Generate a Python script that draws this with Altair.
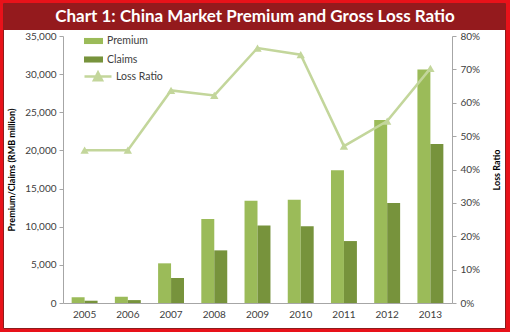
import altair as alt
import pandas as pd

years = ["2005", "2006", "2007", "2008", "2009", "2010", "2011", "2012", "2013"]
premium = [760, 830, 5200, 11000, 13400, 13550, 17400, 24000, 30600]
claims = [300, 380, 3280, 6900, 10150, 10050, 8120, 13100, 20850]
loss_ratio = [0.458, 0.458, 0.637, 0.622, 0.764, 0.744, 0.470, 0.545, 0.703]
bar_series = ["Premium", "Claims"]
bar_colors = ["#9BBB59", "#77933C"]
line_series = ["Loss Ratio"]
line_colors = ["#C3D69B"]
title_text = "Chart 1: China Market Premium and Gross Loss Ratio"

bars_df = pd.DataFrame({
    "Year": years * 2,
    "Series": ["Premium"] * len(years) + ["Claims"] * len(years),
    "Value": premium + claims,
})
lr_df = pd.DataFrame({"Year": years, "LossRatio": loss_ratio,
                      "Series": line_series * len(years)})
one = pd.DataFrame({"k": [0]})

FONT = "Lato"
W, H = 389, 267

x_enc = alt.X("Year:N", sort=years,
              scale=alt.Scale(paddingInner=0.4, paddingOuter=0.2),
              axis=alt.Axis(title=None, labelAngle=0, ticks=False, labelPadding=6,
                            domainColor="#A6A6A6", labelColor="#404040", labelFontSize=10,
                            labelFont=FONT, zindex=1))

frame = alt.Chart(one).mark_rect(fill="white", stroke="#8C1C1C", strokeWidth=1).encode(
    x=alt.value(-59.5), x2=alt.value(442.5), y=alt.value(-32.5), y2=alt.value(292.5))
band = alt.Chart(one).mark_rect(fill="#941A1D").encode(
    x=alt.value(-59.5), x2=alt.value(442.5), y=alt.value(-33), y2=alt.value(-6))
title = alt.Chart(one).mark_text(text=title_text, font=FONT, fontWeight="bold", fontSize=17,
                                 color="white", align="center", baseline="middle").encode(
    x=alt.value(192), y=alt.value(-19))

bars = alt.Chart(bars_df).mark_bar().encode(
    x=x_enc,
    xOffset=alt.XOffset("Series:N", scale=alt.Scale(domain=bar_series)),
    y=alt.Y("Value:Q", scale=alt.Scale(domain=[0, 35000]),
            axis=alt.Axis(orient="left", format=",.0f", values=list(range(0, 35001, 5000)),
                          title="Premium/Claims (RMB million)", titleFont=FONT, titleFontSize=9,
                          titleFontWeight="bold", titleColor="#000000", titlePadding=8,
                          labelFont=FONT, labelFontSize=10, labelColor="#404040",
                          domainColor="#A6A6A6", tickColor="#A6A6A6", tickSize=4,
                          labelPadding=3, grid=False, zindex=1)),
    color=alt.Color("Series:N",
                    scale=alt.Scale(domain=bar_series, range=bar_colors),
                    legend=alt.Legend(
                        title=None, orient="none", legendX=21, legendY=-4.5,
                        symbolSize=361, symbolType="M-1,-0.32H1V0.32H-1Z",
                        symbolStrokeWidth=0,
                        labelFont=FONT, labelFontSize=10.5, labelColor="#404040",
                        labelOffset=4, rowPadding=3.5, padding=0, zindex=1)),
)

line = alt.Chart(lr_df).mark_line(
    strokeWidth=2.5,
    point=alt.OverlayMarkDef(shape="triangle-up", size=70, filled=True),
).encode(
    x=alt.X("Year:N", sort=years),
    y=alt.Y("LossRatio:Q", scale=alt.Scale(domain=[0, 0.8]),
            axis=alt.Axis(orient="right", format=".0%",
                          values=[0, 0.1, 0.2, 0.3, 0.4, 0.5, 0.6, 0.7, 0.8],
                          title="Loss Ratio", titleAngle=270, titleFont=FONT, titleFontSize=9,
                          titleFontWeight="bold", titleColor="#000000", titlePadding=22,
                          labelFont=FONT, labelFontSize=10, labelColor="#404040",
                          domainColor="#A6A6A6", tickColor="#A6A6A6", tickSize=4,
                          labelPadding=4, grid=False, zindex=1)),
    color=alt.Color("Series:N",
                    scale=alt.Scale(domain=line_series, range=line_colors),
                    legend=alt.Legend(
                        title=None, orient="none", legendX=20, legendY=25.5,
                        symbolSize=729, symbolType="M-1,0H1M-0.3,0.28L0,-0.3L0.3,0.28Z",
                        symbolStrokeWidth=2.5, symbolFillColor="#C3D69B",
                        symbolStrokeColor="#C3D69B",
                        labelFont=FONT, labelFontSize=10.5, labelColor="#404040",
                        labelOffset=3, padding=0, zindex=1)),
)

chart = alt.layer(frame, band, title, bars, line).resolve_scale(
    y="independent", color="independent"
).properties(
    width=W, height=H,
    padding={"left": 63, "top": 36, "right": 58, "bottom": 29},
    autosize=alt.AutoSizeParams(type="none"),
).configure(background="#E8121A").configure_view(stroke=None)

chart.save("out.html", embed_options={"renderer": "svg", "actions": False})
